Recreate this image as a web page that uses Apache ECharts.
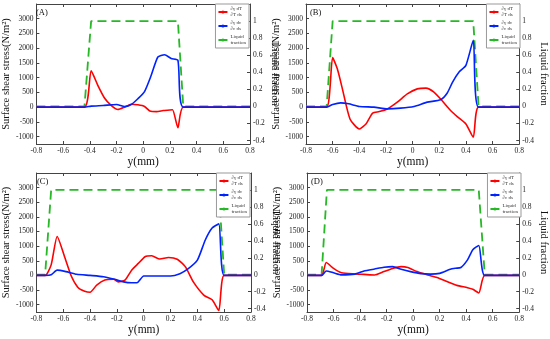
<!DOCTYPE html>
<html><head><meta charset="utf-8">
<script src="https://cdn.jsdelivr.net/npm/echarts@6/dist/echarts.min.js"></script>
<style>html,body{margin:0;padding:0;background:#fff}#c{width:550px;height:339px}</style>
</head><body><div id="c"></div>
<script>
// ---- data (x in mm, y in N/m^2 ; liquid fraction 0..1) ----
const panelLabels = ['(A)', '(B)', '(C)', '(D)'];
const xTickLabels = [-0.8, -0.6, -0.4, -0.2, 0, 0.2, 0.4, 0.6, 0.8];
const leftTicks = [-1000, -500, 0, 500, 1000, 1500, 2000, 2500, 3000];
const rightTicks = [-0.4, -0.2, 0, 0.2, 0.4, 0.6, 0.8, 1];
const seriesNames = ['dT', 'dc', 'liq'];

const redA = [[-0.8,0],[-0.44,0],[-0.39,1230],[-0.34,740],[-0.29,310],[-0.24,60],[-0.19,-80],[-0.14,0],[-0.09,100],[-0.04,80],[0.01,25],[0.05,-130],[0.10,-150],[0.15,-115],[0.20,-95],[0.22,-90],[0.26,-700],[0.30,0],[0.8,0]];
const blueA = [[-0.8,0],[-0.44,0],[-0.39,35],[-0.3,57],[-0.2,90],[-0.14,20],[-0.09,90],[-0.04,285],[0.01,530],[0.06,1080],[0.11,1700],[0.16,1780],[0.21,1650],[0.26,1590],[0.30,0],[0.8,0]];
const liqA = [[-0.8,0],[-0.44,0],[-0.39,1],[0.26,1],[0.30,0],[0.8,0]];

const redB = [[-0.8,0],[-0.645,0],[-0.6,1680],[-0.565,1300],[-0.53,680],[-0.47,-400],[-0.4,-740],[-0.35,-570],[-0.3,-200],[-0.25,-150],[-0.19,-60],[-0.115,170],[-0.04,450],[0.035,620],[0.1,645],[0.16,510],[0.22,226],[0.285,-113],[0.335,-320],[0.4,-570],[0.455,-1020],[0.495,0],[0.8,0]];
const blueB = [[-0.8,0],[-0.645,0],[-0.6,90],[-0.54,147],[-0.48,113],[-0.4,23],[-0.29,0],[-0.19,-57],[-0.09,-34],[0.01,23],[0.11,170],[0.21,250],[0.26,480],[0.3,850],[0.35,1200],[0.4,1420],[0.455,2265],[0.495,0],[0.8,0]];
const liqB = [[-0.8,0],[-0.645,0],[-0.6,1],[0.455,1],[0.495,0],[0.8,0]];

const redC = [[-0.8,0],[-0.735,0],[-0.69,360],[-0.645,1330],[-0.59,640],[-0.54,-20],[-0.49,-410],[-0.44,-540],[-0.4,-575],[-0.35,-330],[-0.29,-160],[-0.225,-130],[-0.19,-220],[-0.14,-160],[-0.09,180],[-0.04,410],[0.01,640],[0.06,670],[0.12,560],[0.185,610],[0.25,550],[0.31,300],[0.37,-220],[0.45,-680],[0.51,-830],[0.56,-1200],[0.60,0],[0.8,0]];
const blueC = [[-0.8,0],[-0.735,0],[-0.69,20],[-0.645,180],[-0.58,130],[-0.5,40],[-0.4,0],[-0.3,-45],[-0.225,-125],[-0.15,-220],[-0.09,-250],[-0.05,-250],[0,-20],[0.1,-20],[0.2,-20],[0.27,60],[0.33,220],[0.4,520],[0.46,1220],[0.51,1620],[0.56,1760],[0.60,0],[0.8,0]];
const liqC = [[-0.8,0],[-0.735,0],[-0.69,1],[0.56,1],[0.60,0],[0.8,0]];

const redD = [[-0.8,0],[-0.69,0],[-0.655,440],[-0.6,240],[-0.54,90],[-0.44,50],[-0.37,35],[-0.29,15],[-0.22,130],[-0.155,240],[-0.09,300],[-0.04,270],[0.03,130],[0.11,15],[0.18,-70],[0.26,-220],[0.33,-340],[0.41,-420],[0.45,-475],[0.495,-600],[0.54,0],[0.8,0]];
const blueD = [[-0.8,0],[-0.69,0],[-0.655,150],[-0.6,90],[-0.54,20],[-0.44,45],[-0.37,150],[-0.29,220],[-0.22,280],[-0.155,300],[-0.09,210],[-0.02,130],[0.06,60],[0.13,45],[0.2,70],[0.28,210],[0.32,245],[0.36,270],[0.41,530],[0.45,880],[0.495,1020],[0.54,0],[0.8,0]];
const liqD = [[-0.8,0],[-0.69,0],[-0.65,1],[0.495,1],[0.54,0],[0.8,0]];

const panelData = [[redA, blueA, liqA], [redB, blueB, liqB], [redC, blueC, liqC], [redD, blueD, liqD]];

// ---- layout ----
const F = 'Liberation Serif';
const grids = [
  {left: 32, top: 4, width: 218, height: 140},
  {left: 306, top: 4, width: 215, height: 140},
  {left: 33, top: 173, width: 218, height: 139},
  {left: 307, top: 173, width: 215, height: 139}
];
const C_RED = '#ff0000', C_BLUE = '#0022ff', C_GREEN = '#26b826';

const option = {animation: false, backgroundColor: '#fff', grid: [], xAxis: [], yAxis: [], series: [], legend: [], title: []};
const axLine = {show: true, onZero: false, lineStyle: {color: '#444', width: 1}};
const axTick = {show: true, inside: true, length: 3, lineStyle: {color: '#444'}};
const numFmt = v => String(Math.round(v * 1000) / 1000);
const tickFont = {fontFamily: F, fontSize: 7.5, color: '#222', margin: 3};

grids.forEach((g, i) => {
  option.grid.push(Object.assign({show: false}, g));
  option.xAxis.push({type: 'value', gridIndex: i, position: 'bottom', min: -0.8, max: 0.8, interval: 0.2,
    axisLine: axLine, axisTick: axTick, splitLine: {show: false},
    axisLabel: Object.assign({formatter: numFmt}, tickFont),
    name: 'y(mm)', nameLocation: 'middle', nameGap: 12, nameTextStyle: {fontFamily: F, fontSize: 11.5, color: '#111'}});
  option.xAxis.push({type: 'value', gridIndex: i, position: 'top', min: -0.8, max: 0.8, interval: 0.2,
    axisLine: axLine, axisTick: axTick, axisLabel: {show: false}, splitLine: {show: false}});
  option.yAxis.push({type: 'value', gridIndex: i, position: 'left', min: -1250, max: 3500,
    axisLine: axLine, axisTick: Object.assign({}, axTick, {customValues: leftTicks}), splitLine: {show: false},
    axisLabel: Object.assign({customValues: leftTicks, formatter: numFmt}, tickFont),
    name: 'Surface shear stress(N/m²)', nameLocation: 'middle', nameRotate: 90, nameGap: 20,
    nameTextStyle: {fontFamily: F, fontSize: 10.5, color: '#111'}});
  option.yAxis.push({type: 'value', gridIndex: i, position: 'right', min: -0.44, max: 1.2,
    axisLine: axLine, axisTick: Object.assign({}, axTick, {customValues: rightTicks}), splitLine: {show: false},
    axisLabel: Object.assign({customValues: rightTicks, formatter: numFmt}, tickFont),
    name: 'Liquid fraction', nameLocation: 'middle', nameRotate: -90, nameGap: 11,
    nameTextStyle: {fontFamily: F, fontSize: 10.5, color: '#111'}});
  const [red, blue, liq] = panelData[i];
  const common = {type: 'line', symbol: 'none', xAxisIndex: 2*i, smooth: 0.2, z: 3};
  option.series.push(Object.assign({}, common, {name: seriesNames[0], yAxisIndex: 2*i, data: red, lineStyle: {color: C_RED, width: 1.6}, itemStyle: {color: C_RED}}));
  option.series.push(Object.assign({}, common, {name: seriesNames[1], yAxisIndex: 2*i, data: blue, lineStyle: {color: C_BLUE, width: 1.6}, itemStyle: {color: C_BLUE}}));
  option.series.push(Object.assign({}, common, {name: seriesNames[2], yAxisIndex: 2*i+1, data: liq, smooth: false, z: 2,
    lineStyle: {color: C_GREEN, width: 1.8, type: [9, 5]}, itemStyle: {color: C_GREEN}}));
  option.title.push({text: panelLabels[i], left: g.left + 4, top: g.top + 4, padding: 0,
    textStyle: {fontFamily: F, fontSize: 8.5, fontWeight: 'normal', color: '#111'}});
  option.legend.push({data: seriesNames, orient: 'vertical', right: 550 - (g.left + g.width) + 1, top: g.top, z: 10,
    backgroundColor: '#fff', borderColor: '#999', borderWidth: 1, padding: [2, 3, 2, 2], itemGap: 2,
    itemWidth: 9, itemHeight: 4, selectedMode: false,
    textStyle: {fontFamily: F, fontSize: 5, lineHeight: 6, color: '#333', padding: [0, 0, 0, -2]},
    formatter: n => n === 'dT' ? '∂γ dT\n∂T ds' : n === 'dc' ? '∂γ dc\n∂c ds' : 'Liquid\nfraction'});
});

const chart = echarts.init(document.getElementById('c'), null, {renderer: 'canvas'});
chart.setOption(option);
</script></body></html>
